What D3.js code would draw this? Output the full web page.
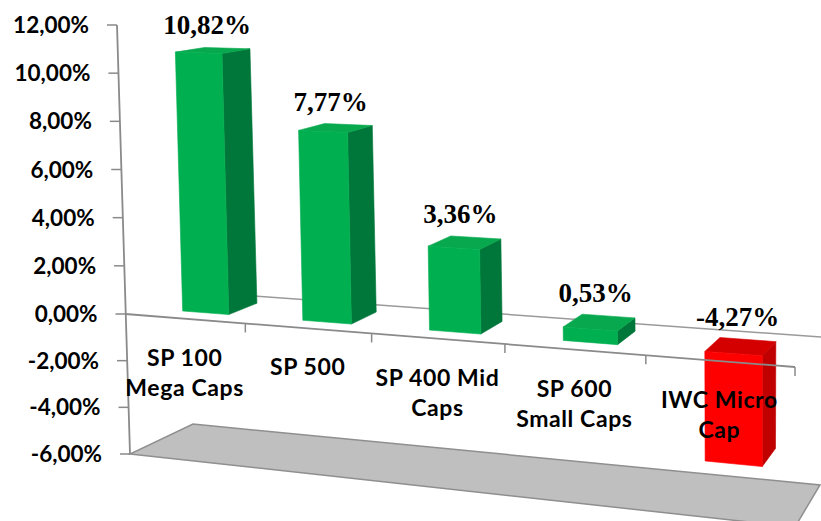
<!DOCTYPE html>
<html lang="en">
<head>
<meta charset="UTF-8">
<title>Returns by market cap</title>
<script src="https://d3js.org/d3.v7.min.js"></script>
<style>
  body { margin: 0; background: #fff; }
  svg { display: block; }
  .tick-label { font-family: Lato, "Open Sans", sans-serif; font-weight: 700; font-size: 22.5px; fill: #000; }
  .cat-label { font-family: Lato, "Open Sans", sans-serif; font-weight: 700; font-size: 23px; letter-spacing: 0.6px; fill: #000; }
  .value-label { font-family: "Liberation Serif", "Times New Roman", serif; font-weight: 700; font-size: 27px; fill: #000; }
</style>
</head>
<body>
<svg width="821" height="521"></svg>
<script>
const categories = [["SP 100", "Mega Caps"], ["SP 500"], ["SP 400 Mid", "Caps"], ["SP 600", "Small Caps"], ["IWC Micro", "Cap"]];
const values = [10.82, 7.77, 3.36, 0.53, -4.27];
const yTicks = [-6, -4, -2, 0, 2, 4, 6, 8, 10, 12];

const svg = d3.select("svg");
const comma = d3.formatLocale({ decimal: ",", thousands: ".", grouping: [3], currency: ["", ""], minus: "-" });
const pct = v => comma.format(".2f")(v) + "%";

// 3d frame: screen position of the four vertical edges of the plot box at -6%, 0% and 12%
const vDomain = [-6, 0, 12];
const edge = (xs, ys) => ({
  x: d3.scaleLinear().domain(vDomain).range(xs),
  y: d3.scaleLinear().domain(vDomain).range(ys)
});
const frontLeft = edge([130, 125.5, 117], [454, 314, 25]);
const frontRight = edge([795, 795, 795], [527, 367, 43]);
const backLeft = edge([193, 189, 180], [424, 291.4, 17]);
const backRight = edge([820, 821, 821], [485, 337, 32]);

// right side is closer to the viewer, so categories get wider to the right
const persp = u => 0.872 * u / (1 - 0.128 * u);
const lerp = (a, b, t) => a + (b - a) * t;

function project(u, v, z) {
  const t = persp(u);
  const fx = lerp(frontLeft.x(v), frontRight.x(v), t);
  const fy = lerp(frontLeft.y(v), frontRight.y(v), t);
  const bx = lerp(backLeft.x(v), backRight.x(v), t);
  const by = lerp(backLeft.y(v), backRight.y(v), t);
  return [lerp(fx, bx, z), lerp(fy, by, z)];
}

const idx = d3.range(categories.length);
const cat = d3.scaleBand().domain(idx).range([0, 1]);
const bar = d3.scaleBand().domain(idx).range([0.008, 1.008]).paddingInner(0.61).paddingOuter(0.305);
const depth = [0.27, 0.75];

const poly = pts => d3.line()(pts.map(p => project(...p))) + "Z";

// floor at -6%
svg.append("path")
  .attr("d", poly([[0, -6, 0], [1, -6, 0], [1, -6, 1], [0, -6, 1]]))
  .attr("fill", "#bfbfbf")
  .attr("stroke", "#8f8f8f")
  .attr("stroke-width", 1.5);

// zero gridline on the back wall
svg.append("line")
  .attr("x1", project(0, 0, 1)[0]).attr("y1", project(0, 0, 1)[1])
  .attr("x2", project(1, 0, 1)[0]).attr("y2", project(1, 0, 1)[1])
  .attr("stroke", "#9a9a9a").attr("stroke-width", 1.5);

// value axis
const axis = svg.append("g");
axis.append("line")
  .attr("x1", project(0, -6, 0)[0]).attr("y1", project(0, -6, 0)[1])
  .attr("x2", project(0, 12, 0)[0]).attr("y2", project(0, 12, 0)[1])
  .attr("stroke", "#8a8a8a").attr("stroke-width", 1.8);

yTicks.forEach(v => {
  const [x, y] = project(0, v, 0);
  axis.append("line")
    .attr("x1", x - 10).attr("y1", y).attr("x2", x).attr("y2", y)
    .attr("stroke", "#8a8a8a").attr("stroke-width", 1.5);
  axis.append("text")
    .attr("class", "tick-label")
    .attr("x", x - 28).attr("y", y).attr("dy", "0.36em")
    .attr("text-anchor", "end")
    .text(pct(v));
});

// bars
const colors = v => v >= 0
  ? { front: "#00b050", top: "#08a84e", side: "#00773a" }
  : { front: "#ff0000", top: "#d40000", side: "#c00000" };

const bars = svg.append("g");
values.forEach((val, i) => {
  const ul = bar(i), ur = bar(i) + bar.bandwidth();
  const v0 = Math.min(0, val), v1 = Math.max(0, val);
  const [z0, z1] = depth;
  const c = colors(val);
  const faces = [
    { pts: [[ur, v0, z0], [ur, v0, z1], [ur, v1, z1], [ur, v1, z0]], fill: c.side },
    { pts: [[ul, v1, z0], [ur, v1, z0], [ur, v1, z1], [ul, v1, z1]], fill: c.top },
    { pts: [[ul, v0, z0], [ur, v0, z0], [ur, v1, z0], [ul, v1, z0]], fill: c.front }
  ];
  faces.forEach(f => {
    bars.append("path")
      .attr("d", poly(f.pts))
      .attr("fill", f.fill)
      .attr("stroke", f.fill)
      .attr("stroke-width", 0.6)
      .attr("stroke-linejoin", "round");
  });
});

// category axis at 0% on the front
const catAxis = svg.append("g");
catAxis.append("line")
  .attr("x1", project(0, 0, 0)[0]).attr("y1", project(0, 0, 0)[1])
  .attr("x2", project(1, 0, 0)[0]).attr("y2", project(1, 0, 0)[1])
  .attr("stroke", "#8a8a8a").attr("stroke-width", 1.8);

idx.forEach(i => {
  const [x, y] = project(cat(i) + cat.bandwidth(), 0, 0);
  catAxis.append("line")
    .attr("x1", x).attr("y1", y).attr("x2", x).attr("y2", y + 9)
    .attr("stroke", "#8a8a8a").attr("stroke-width", 1.5);
});

categories.forEach((lines, i) => {
  const [x, y] = project(cat(i) + cat.bandwidth() / 2, 0, 0);
  const t = catAxis.append("text")
    .attr("class", "cat-label")
    .attr("text-anchor", "middle");
  lines.forEach((s, j) => {
    t.append("tspan").attr("x", x).attr("y", y + 47 + j * 30).text(s);
  });
});

// value labels above each bar
values.forEach((val, i) => {
  const uc = bar(i) + bar.bandwidth() / 2;
  const v1 = Math.max(0, val);
  const [z0, z1] = depth;
  const x = project(uc, v1, lerp(z0, z1, 0.3))[0];
  const y = project(uc, v1, z1)[1] - 14;
  svg.append("text")
    .attr("class", "value-label")
    .attr("x", x).attr("y", y)
    .attr("text-anchor", "middle")
    .text(pct(val));
});
</script>
</body>
</html>
